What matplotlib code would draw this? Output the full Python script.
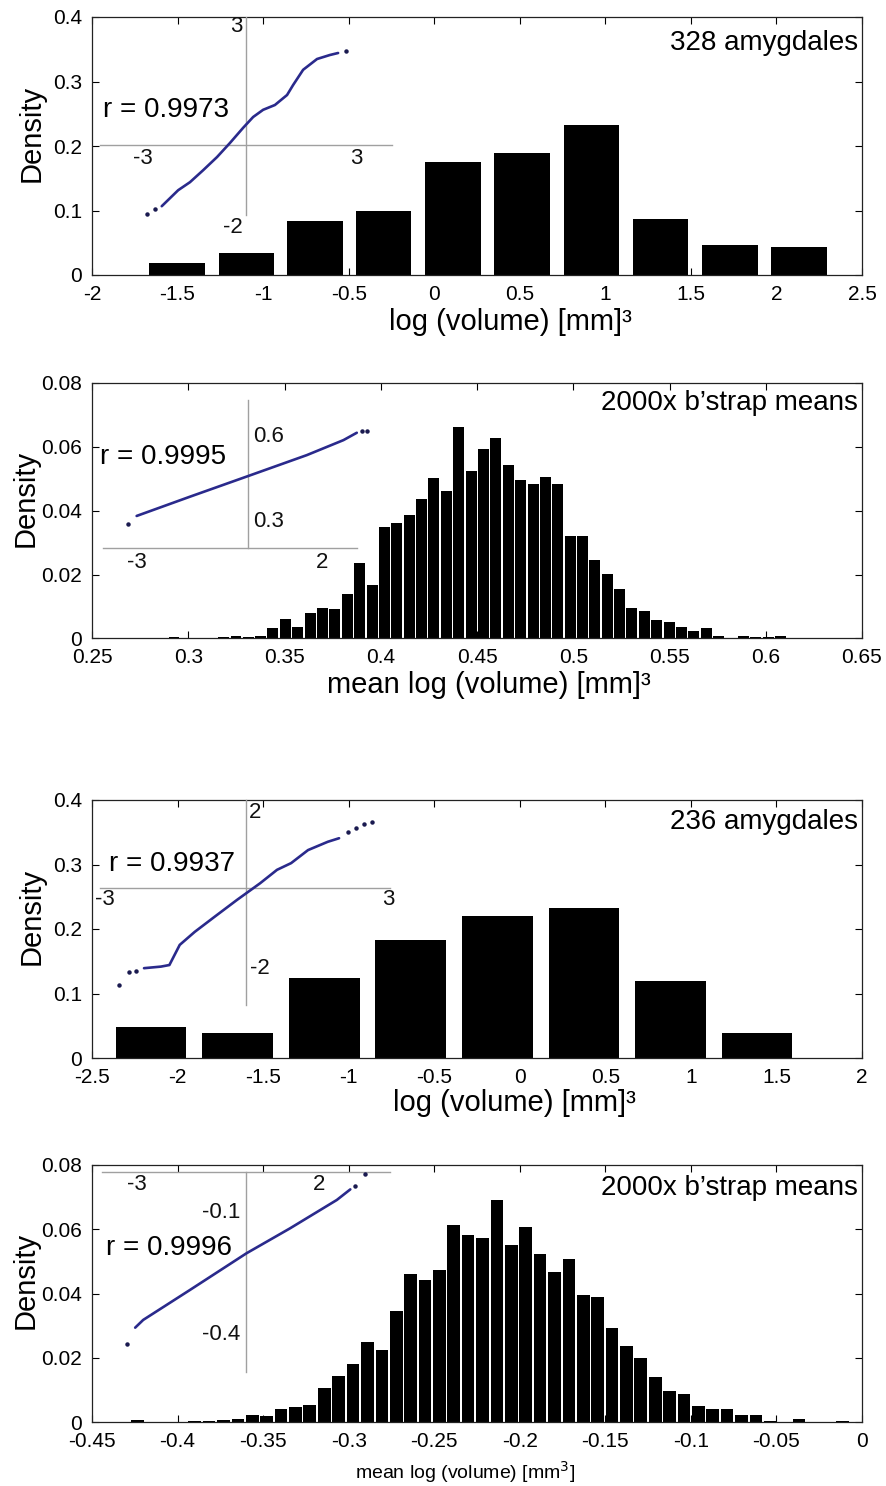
import matplotlib
matplotlib.use('Agg')
import matplotlib.pyplot as plt
from matplotlib.ticker import FixedLocator, FuncFormatter

plt.rcParams['axes.unicode_minus'] = False
NARROW = ['Liberation Sans Narrow', 'Liberation Sans', 'DejaVu Sans']
REG = ['Liberation Sans', 'DejaVu Sans']

# ---------------- data ----------------
# Panel 1: 328 amygdales
p1_centers = [-1.503, -1.098, -0.697, -0.295, 0.111, 0.514, 0.920, 1.323, 1.728, 2.133]
p1_density = [0.0191, 0.0342, 0.0838, 0.0994, 0.1749, 0.1899, 0.2318, 0.0864, 0.0466, 0.0435]
p1_qq_x = [-2.36, -2.13, -1.90, -1.57, -1.20, -0.81, -0.45, -0.08, 0.20, 0.48, 0.81, 1.15, 1.32, 1.60, 1.99, 2.35, 2.58]
p1_qq_y = [-1.53, -1.33, -1.13, -0.93, -0.63, -0.30, 0.05, 0.43, 0.70, 0.88, 1.00, 1.25, 1.50, 1.88, 2.15, 2.25, 2.30]
p1_dot_x = [-2.78, -2.55, 2.80]
p1_dot_y = [-1.73, -1.60, 2.35]

# Panel 2: 2000x bootstrap means (328 amygdales)
p2_centers = [0.2926, 0.2990, 0.3055, 0.3119, 0.3183, 0.3248, 0.3312, 0.3376, 0.3440, 0.3505,
              0.3569, 0.3633, 0.3698, 0.3762, 0.3826, 0.3891, 0.3955, 0.4019, 0.4083, 0.4148,
              0.4212, 0.4276, 0.4341, 0.4405, 0.4469, 0.4534, 0.4598, 0.4662, 0.4726, 0.4791,
              0.4855, 0.4919, 0.4984, 0.5048, 0.5112, 0.5177, 0.5241, 0.5305, 0.5369, 0.5434,
              0.5498, 0.5562, 0.5627, 0.5691, 0.5755, 0.5820, 0.5884, 0.5948, 0.6012, 0.6077]
p2_density = [0.0004, 0.0, 0.0, 0.0003, 0.0005, 0.0009, 0.0004, 0.0009, 0.0032, 0.0060,
              0.0037, 0.0081, 0.0095, 0.0092, 0.0138, 0.0235, 0.0166, 0.0350, 0.0361, 0.0386,
              0.0437, 0.0502, 0.0462, 0.0662, 0.0523, 0.0593, 0.0627, 0.0544, 0.0497, 0.0483,
              0.0507, 0.0483, 0.0321, 0.0321, 0.0246, 0.0201, 0.0155, 0.0094, 0.0085, 0.0057,
              0.0052, 0.0037, 0.0022, 0.0032, 0.0009, 0.0, 0.0009, 0.0005, 0.0004, 0.0009]
p2_qq_x = [-3.01, -1.57, -0.04, 1.59, 2.58, 2.94]
p2_qq_y = [0.321, 0.389, 0.460, 0.536, 0.589, 0.615]
p2_dot_x = [-3.24, 3.08, 3.21]
p2_dot_y = [0.293, 0.621, 0.621]

# Panel 3: 236 amygdales
p3_centers = [-2.155, -1.649, -1.143, -0.637, -0.131, 0.375, 0.881, 1.387]
p3_density = [0.0475, 0.0387, 0.1239, 0.1827, 0.2204, 0.2323, 0.1187, 0.0387]
p3_qq_x = [-2.17, -1.81, -1.63, -1.41, -1.09, -0.67, -0.19, 0.30, 0.66, 0.96, 1.32, 1.74, 1.98]
p3_qq_y = [-2.03, -1.99, -1.95, -1.44, -1.11, -0.73, -0.30, 0.12, 0.46, 0.63, 0.96, 1.17, 1.26]
p3_dot_x = [-2.71, -2.49, -2.35, 2.16, 2.34, 2.52, 2.68]
p3_dot_y = [-2.46, -2.13, -2.10, 1.43, 1.51, 1.61, 1.68]

# Panel 4: 2000x bootstrap means (236 amygdales)
p4_centers = [-0.4236, -0.4152, -0.4068, -0.3984, -0.3900, -0.3816, -0.3731, -0.3647, -0.3563, -0.3479,
              -0.3395, -0.3311, -0.3227, -0.3143, -0.3059, -0.2975, -0.2890, -0.2806, -0.2722, -0.2638,
              -0.2554, -0.2470, -0.2386, -0.2302, -0.2218, -0.2134, -0.2049, -0.1965, -0.1881, -0.1797,
              -0.1713, -0.1629, -0.1545, -0.1461, -0.1377, -0.1293, -0.1208, -0.1124, -0.1040, -0.0956,
              -0.0872, -0.0788, -0.0704, -0.0620, -0.0536, -0.0452, -0.0368, -0.0283, -0.0199, -0.0115]
p4_density = [0.0005, 0.0, 0.0, 0.0, 0.0003, 0.0003, 0.0005, 0.0009, 0.0023, 0.0018,
              0.0039, 0.0047, 0.0052, 0.0105, 0.0144, 0.0181, 0.0249, 0.0224, 0.0345, 0.0461,
              0.0442, 0.0472, 0.0612, 0.0582, 0.0572, 0.0690, 0.0552, 0.0607, 0.0523, 0.0467,
              0.0507, 0.0395, 0.0390, 0.0294, 0.0238, 0.0198, 0.0140, 0.0098, 0.0088, 0.0050,
              0.0042, 0.0042, 0.0021, 0.0021, 0.0004, 0.0, 0.0008, 0.0, 0.0, 0.0004]
p4_qq_x = [-3.05, -2.83, -1.54, 0.01, 1.20, 2.49, 2.86]
p4_qq_y = [-0.382, -0.363, -0.289, -0.199, -0.138, -0.068, -0.042]
p4_dot_x = [-3.27, 2.98, 3.25]
p4_dot_y = [-0.422, -0.034, -0.004]

# tick labels
p1_xticks = [-2, -1.5, -1, -0.5, 0, 0.5, 1, 1.5, 2, 2.5]
p2_xticks = [0.25, 0.3, 0.35, 0.4, 0.45, 0.5, 0.55, 0.6, 0.65]
p3_xticks = [-2.5, -2, -1.5, -1, -0.5, 0, 0.5, 1, 1.5, 2]
p4_xticks = [-0.45, -0.4, -0.35, -0.3, -0.25, -0.2, -0.15, -0.1, -0.05, 0]
yticks_big = [0, 0.1, 0.2, 0.3, 0.4]
yticks_small = [0, 0.02, 0.04, 0.06, 0.08]

# ---------------- figure ----------------
W, H = 886, 1486
fig = plt.figure(figsize=(W / 100, H / 100), dpi=100)
fig.patch.set_facecolor('white')

L, R = 92, 862
boxes = [(17, 275), (383, 638.5), (800, 1058), (1165, 1422)]  # (top, bottom) px

fmt = FuncFormatter(lambda v, p: ('%g' % round(v, 4)))
QQ_COL = '#2a2a8c'


def make_axes(box):
    top, bot = box
    return fig.add_axes([L / W, 1 - bot / H, (R - L) / W, (bot - top) / H])


def style(ax, xticks, yticks, xlim, ylim):
    ax.set_xlim(*xlim)
    ax.set_ylim(*ylim)
    ax.xaxis.set_major_locator(FixedLocator(xticks))
    ax.yaxis.set_major_locator(FixedLocator(yticks))
    ax.xaxis.set_major_formatter(fmt)
    ax.yaxis.set_major_formatter(fmt)
    ax.tick_params(direction='in', top=True, right=True, length=5, width=0.8,
                   labelsize=15, pad=7)
    for lab in ax.get_xticklabels() + ax.get_yticklabels():
        lab.set_family(NARROW)
    for s in ax.spines.values():
        s.set_linewidth(0.9)
        s.set_color('#222222')


def inset(ax, box, ox, oy, sx, sy, xlim, ylim):
    top, bot = box
    x0 = ox + xlim[0] * sx
    x1 = ox + xlim[1] * sx
    yt = oy - ylim[1] * sy
    yb = oy - ylim[0] * sy
    fx0 = (x0 - L) / (R - L)
    fx1 = (x1 - L) / (R - L)
    fy0 = (bot - yb) / (bot - top)
    fy1 = (bot - yt) / (bot - top)
    ia = ax.inset_axes([fx0, fy0, fx1 - fx0, fy1 - fy0])
    ia.set_xlim(*xlim)
    ia.set_ylim(*ylim)
    ia.axis('off')
    ia.patch.set_alpha(0)
    return ia


def qq(ia, xs, ys, dx, dy):
    ia.plot(xs, ys, color=QQ_COL, lw=1.9, solid_capstyle='round', zorder=3)
    ia.plot(dx, dy, ls='none', marker='o', ms=2.2, color='#1a1a50', zorder=3)


def itext(ia, x, y, s, ha, va='center'):
    ia.text(x, y, s, ha=ha, va=va, fontsize=16, family=REG, clip_on=False, color='#111111')


def common(ax, ylab_x, note, note_y, r_text, r_pos, xlabel, xl_pos, xl_size):
    ax.set_ylabel('Density', fontsize=21, family=REG)
    ax.yaxis.set_label_coords(ylab_x, 0.55)
    ax.text(0.995, note_y, note, transform=ax.transAxes, ha='right', va='center',
            fontsize=20, family=NARROW)
    ax.text(r_pos[0], r_pos[1], r_text, transform=ax.transAxes, ha='left', va='center',
            fontsize=20, family=NARROW)
    ax.text(xl_pos[0], xl_pos[1], xlabel, transform=ax.transAxes, ha='center', va='center',
            fontsize=xl_size, family=NARROW)


# ---- Panel 1 ----
ax1 = make_axes(boxes[0])
ax1.bar(p1_centers, p1_density, width=0.324, color='black', zorder=2)
style(ax1, p1_xticks, yticks_big, (-2, 2.5), (0, 0.4))
common(ax1, -0.060, '328 amygdales', 0.90, 'r = 0.9973', (0.014, 0.64),
       'log (volume) [mm]³', (0.543, -0.182), 21)
ia1 = inset(ax1, boxes[0], 246, 145, 35.7, 40, (-4.3, 4.3), (-2.6, 3.2))
ia1.plot([-4.09, 4.09], [0, 0], color='#a0a0a0', lw=1.0, zorder=1)
ia1.plot([0, 0], [-1.75, 3.2], color='#a0a0a0', lw=1.0, zorder=1)
qq(ia1, p1_qq_x, p1_qq_y, p1_dot_x, p1_dot_y)
itext(ia1, -2.9, -0.33, '-3', 'center')
itext(ia1, 3.1, -0.33, '3', 'center')
itext(ia1, -0.1, 2.95, '3', 'right')
itext(ia1, -0.1, -2.07, '-2', 'right')

# ---- Panel 2 ----
ax2 = make_axes(boxes[1])
ax2.bar(p2_centers, p2_density, width=0.0057, color='black', zorder=2)
style(ax2, p2_xticks, yticks_small, (0.25, 0.65), (0, 0.08))
common(ax2, -0.068, '2000x b’strap means', 0.92, 'r = 0.9995', (0.010, 0.71),
       'mean log (volume) [mm]³', (0.516, -0.182), 21)
ia2 = inset(ax2, boxes[1], 248, 606.8, 37, 283, (-4.0, 3.4), (0.12, 0.735))
ia2.plot([-3.92, 2.95], [0.208, 0.208], color='#a0a0a0', lw=1.0, zorder=1)
ia2.plot([0, 0], [0.208, 0.731], color='#a0a0a0', lw=1.0, zorder=1)
qq(ia2, p2_qq_x, p2_qq_y, p2_dot_x, p2_dot_y)
itext(ia2, -3.0, 0.155, '-3', 'center')
itext(ia2, 2.0, 0.155, '2', 'center')
itext(ia2, 0.15, 0.6, '0.6', 'left')
itext(ia2, 0.15, 0.3, '0.3', 'left')

# ---- Panel 3 ----
ax3 = make_axes(boxes[2])
ax3.bar(p3_centers, p3_density, width=0.413, color='black', zorder=2)
style(ax3, p3_xticks, yticks_big, (-2.5, 2), (0, 0.4))
common(ax3, -0.060, '236 amygdales', 0.915, 'r = 0.9937', (0.022, 0.75),
       'log (volume) [mm]³', (0.548, -0.174), 21)
ia3 = inset(ax3, boxes[2], 246, 888, 47, 39.5, (-3.3, 3.3), (-3.1, 2.25))
ia3.plot([-3.1, 3.06], [0, 0], color='#a0a0a0', lw=1.0, zorder=1)
ia3.plot([0, 0], [-2.96, 2.23], color='#a0a0a0', lw=1.0, zorder=1)
qq(ia3, p3_qq_x, p3_qq_y, p3_dot_x, p3_dot_y)
itext(ia3, -3.0, -0.30, '-3', 'center')
itext(ia3, 3.02, -0.30, '3', 'center')
itext(ia3, 0.06, 1.92, '2', 'left')
itext(ia3, 0.08, -2.03, '-2', 'left')

# ---- Panel 4 ----
ax4 = make_axes(boxes[3])
ax4.bar(p4_centers, p4_density, width=0.0074, color='black', zorder=2)
style(ax4, p4_xticks, yticks_small, (-0.45, 0), (0, 0.08))
common(ax4, -0.068, '2000x b’strap means', 0.91, 'r = 0.9996', (0.018, 0.677),
       'mean log (volume) [mm$^3$]', (0.484, -0.195), 14)
ia4 = inset(ax4, boxes[3], 246.2, 1172.3, 36.4, 406.7, (-4.0, 4.0), (-0.5, 0.015))
ia4.plot([-3.96, 3.95], [0, 0], color='#a0a0a0', lw=1.0, zorder=1)
ia4.plot([0, 0], [0, -0.491], color='#a0a0a0', lw=1.0, zorder=1)
qq(ia4, p4_qq_x, p4_qq_y, p4_dot_x, p4_dot_y)
itext(ia4, -3.0, -0.029, '-3', 'center')
itext(ia4, 2.0, -0.029, '2', 'center')
itext(ia4, -0.17, -0.1, '-0.1', 'right')
itext(ia4, -0.17, -0.4, '-0.4', 'right')

fig.savefig('out.png', dpi=100, facecolor='white')
